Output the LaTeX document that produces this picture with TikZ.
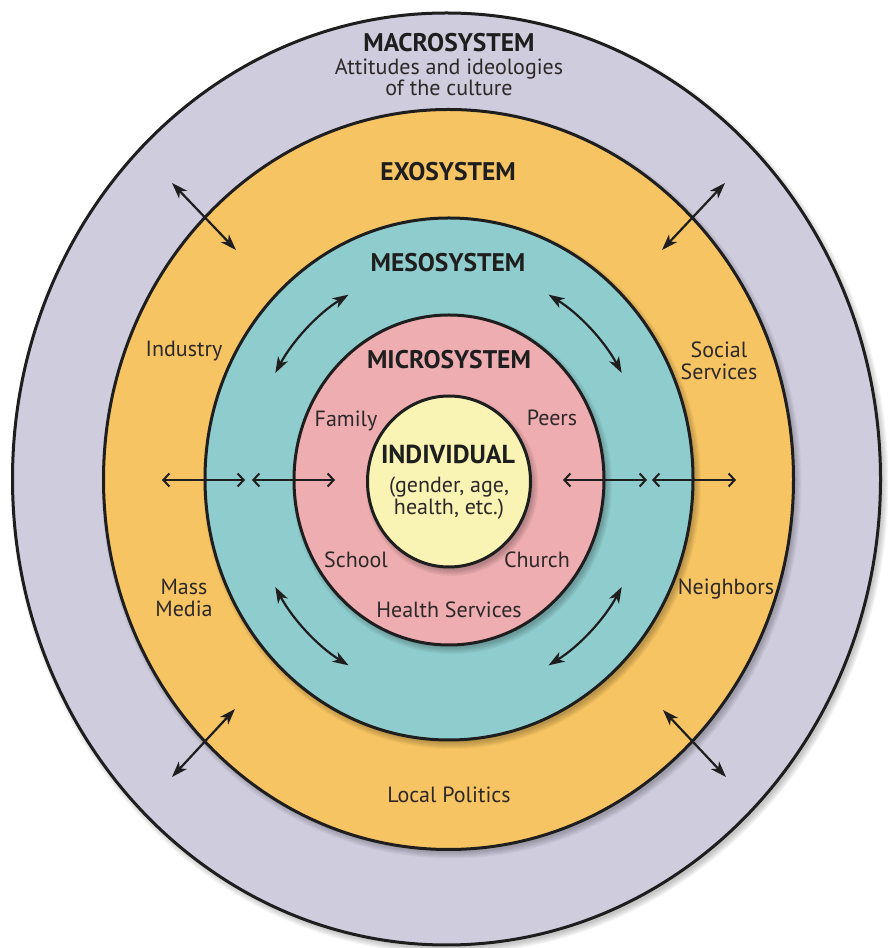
\documentclass[tikz,border=0pt]{standalone}
\usepackage{fontspec}
\setmainfont{PT Sans}
\usetikzlibrary{arrows.meta}
\definecolor{macroc}{RGB}{207,204,222}
\definecolor{exoc}{RGB}{246,196,98}
\definecolor{mesoc}{RGB}{143,204,205}
\definecolor{microc}{RGB}{238,173,176}
\definecolor{indc}{RGB}{249,243,180}
\definecolor{linec}{RGB}{30,30,30}
\definecolor{textc}{RGB}{45,40,40}
\newcommand\ringshadow[4]{%
  \foreach \k in {1,...,7}{\fill[black,opacity=0.035] (#1+3,#2-4) ellipse [x radius=#3+\k-2, y radius=#4+\k-2];}}
\begin{document}
\begin{tikzpicture}[x=1pt,y=1pt,
  ring/.style={line width=3pt, draw=linec},
  lab/.style={font=\fontsize{22}{24}\selectfont, text=textc, inner sep=0pt, text height=15pt, text depth=0pt},
  multi/.style={font=\fontsize{22}{19}\selectfont, text=textc, inner sep=0pt, align=center},
  multiw/.style={font=\fontsize{22}{22}\selectfont, text=textc, inner sep=0pt, align=center},
  ttl/.style={font=\bfseries\fontsize{25.5}{27}\selectfont, text=linec, inner sep=0pt, text height=17pt, text depth=0pt},
  hx/.style={line width=2pt, draw=linec, {Straight Barb[length=6pt,width=13pt]}-{Straight Barb[length=6pt,width=13pt]}},
  dx/.style={line width=2.2pt, draw=linec, {Stealth[length=16pt,width=11pt,inset=4.5pt]}-{Stealth[length=16pt,width=11pt,inset=4.5pt]}}
]
\useasboundingbox (0,0) rectangle (887,948);
\coordinate (c) at (448.5,468);
% rings
\ringshadow{446.5}{469}{434}{466}
\filldraw[ring, fill=macroc] (446.5,469) ellipse [x radius=434, y radius=466];
\ringshadow{448.5}{468.5}{345}{370}
\filldraw[ring, fill=exoc] (448.5,468.5) ellipse [x radius=345, y radius=370];
\ringshadow{449}{469}{244}{261}
\filldraw[ring, fill=mesoc] (449,469) ellipse [x radius=244, y radius=261];
\ringshadow{449}{468}{155}{165}
\filldraw[ring, fill=microc] (449,468) ellipse [x radius=155, y radius=165];
\ringshadow{449}{466.5}{81.5}{85.5}
\filldraw[ring, fill=indc] (449,466.5) ellipse [x radius=81.5, y radius=85.5];

% horizontal arrows
\coordinate (h1a) at (162,468); \coordinate (h1b) at (245,468);
\coordinate (h2a) at (252,468); \coordinate (h2b) at (335,468);
\coordinate (h3a) at (563,468); \coordinate (h3b) at (647,468);
\coordinate (h4a) at (652,468); \coordinate (h4b) at (736,468);
\draw[hx] (h1a) -- (h1b);
\draw[hx] (h2a) -- (h2b);
\draw[hx] (h3a) -- (h3b);
\draw[hx] (h4a) -- (h4b);

% diagonal arrows
\coordinate (d1a) at (172,765); \coordinate (d1b) at (236,698);
\coordinate (d2a) at (725,765); \coordinate (d2b) at (662,698);
\coordinate (d3a) at (235,239); \coordinate (d3b) at (172,171);
\coordinate (d4a) at (663,238); \coordinate (d4b) at (726,171);
\draw[dx] (d1a) -- (d1b);
\draw[dx] (d2a) -- (d2b);
\draw[dx] (d3a) -- (d3b);
\draw[dx] (d4a) -- (d4b);

% curved arrows in mesosystem
\path (c) ++(120:200 and 214) coordinate (a1);
\path (c) ++(60:200 and 214) coordinate (a2);
\path (c) ++(210:200 and 214) coordinate (a3);
\path (c) ++(-30:200 and 214) coordinate (a4);
\draw[dx] (a1) arc[start angle=120, end angle=150, x radius=200, y radius=214];
\draw[dx] (a2) arc[start angle=60, end angle=30, x radius=200, y radius=214];
\draw[dx] (a3) arc[start angle=210, end angle=240, x radius=200, y radius=214];
\draw[dx] (a4) arc[start angle=-30, end angle=-60, x radius=200, y radius=214];

% titles
\node[ttl] (macro) at (449,905) {MACROSYSTEM};
\node[multi] (macrotxt) at (449,870.5) {Attitudes and ideologies\\of the culture};
\node[ttl] (exo) at (448,776) {EXOSYSTEM};
\node[ttl] (meso) at (448,685) {MESOSYSTEM};
\node[ttl] (micro) at (449,588) {MICROSYSTEM};
\node[ttl, font=\bfseries\fontsize{26}{28}\selectfont, text height=17.5pt] (ind) at (448,493) {INDIVIDUAL};
\node[multi] (indtxt) at (449,450) {(gender, age,\\health, etc.)};
% microsystem labels
\node[lab] (family) at (346,529) {Family};
\node[lab] (peers) at (552,530) {Peers};
\node[lab] (school) at (356,388) {School};
\node[lab] (church) at (537,388) {Church};
\node[lab] (health) at (449,338) {Health Services};
% exosystem labels
\node[lab] (industry) at (184,599) {Industry};
\node[multiw] (social) at (719,587) {Social\\Services};
\node[multiw] (mass) at (184,350) {Mass\\Media};
\node[lab] (neigh) at (726,361) {Neighbors};
\node[lab] (politics) at (449,153) {Local Politics};
\end{tikzpicture}
\end{document}
